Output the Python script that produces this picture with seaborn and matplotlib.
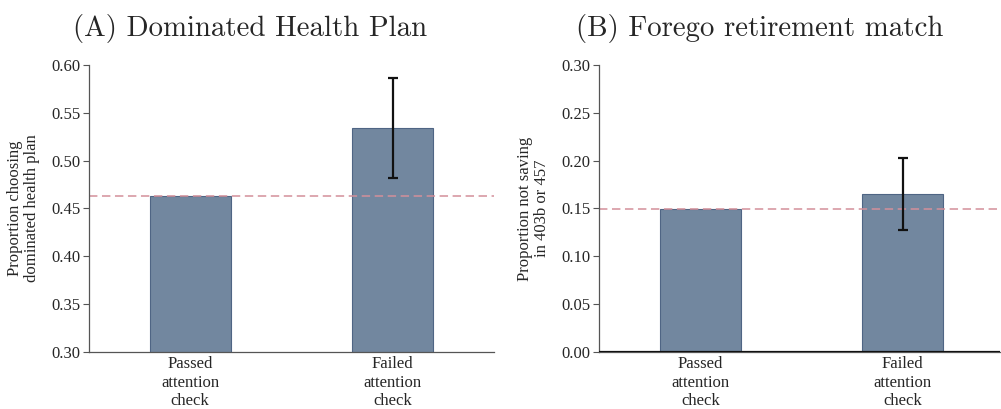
import matplotlib
matplotlib.use("Agg")
import matplotlib.pyplot as plt
import seaborn as sns
import pandas as pd

# Group labels and summary statistics for each panel
groups = ["Passed\nattention\ncheck", "Failed\nattention\ncheck"]
health_means = [0.463, 0.534]
health_err = [0.0, 0.052]
retire_means = [0.149, 0.165]
retire_err = [0.0, 0.038]

health_ticks = [0.30, 0.35, 0.40, 0.45, 0.50, 0.55, 0.60]
retire_ticks = [0.00, 0.05, 0.10, 0.15, 0.20, 0.25, 0.30]

bar_color = "#72879f"
edge_color = "#4f6584"
ref_color = "#d38f9a"
spine_color = "#555555"

sns.set_theme(style="white")
plt.rcParams["font.family"] = ["Liberation Serif", "DejaVu Serif"]

fig = plt.figure(figsize=(10.01, 4.09), dpi=100)
ax1 = fig.add_axes([0.0889, 0.1394, 0.4046, 0.7017])
ax2 = fig.add_axes([0.5984, 0.1394, 0.4006, 0.7017])


def draw_panel(ax, means, errs, ticks, ylabel, title, title_x, xlim_right):
    df = pd.DataFrame({"group": groups, "value": means})
    sns.barplot(data=df, x="group", y="value", ax=ax, width=0.4,
                color=bar_color, edgecolor=edge_color, linewidth=0.8,
                saturation=1, errorbar=None)
    # error bar on the failed group only
    ax.errorbar([1], [means[1]], yerr=[errs[1]], fmt="none", ecolor="#111111",
                elinewidth=1.6, capsize=3.5, capthick=1.6, zorder=5)
    # reference line at the passed-group level
    ax.axhline(means[0], color=ref_color, lw=1.1, ls=(0, (5.5, 3)), zorder=1)
    ax.set_ylim(ticks[0], ticks[-1])
    ax.set_yticks(ticks)
    ax.set_yticklabels([f"{t:.2f}" for t in ticks], fontsize=12)
    ax.set_xlim(-0.5, xlim_right)
    ax.set_xlabel("")
    ax.set_ylabel(ylabel, fontsize=12, linespacing=1.1, labelpad=8)
    ax.tick_params(axis="x", length=0, labelsize=12, pad=3)
    ax.tick_params(axis="y", length=4, width=0.8, color=spine_color,
                   left=True, pad=2)
    for lbl in ax.get_xticklabels():
        lbl.set_linespacing(1.2)
    for s in ["top", "right"]:
        ax.spines[s].set_visible(False)
    for s in ["left", "bottom"]:
        ax.spines[s].set_color(spine_color)
        ax.spines[s].set_linewidth(0.9)
    ax.set_title(title, fontsize=20.8, family="cmr10", x=title_x, pad=21)


draw_panel(ax1, health_means, health_err, health_ticks,
           "Proportion choosing\ndominated health plan",
           "(A) Dominated Health Plan", 0.398, 1.5)
draw_panel(ax2, retire_means, retire_err, retire_ticks,
           "Proportion not saving\nin 403b or 457",
           "(B) Forego retirement match", 0.40, 1.48)
ax2.axhline(0, color="#111111", lw=1.6, zorder=6)

fig.savefig("out.png", dpi=100)
